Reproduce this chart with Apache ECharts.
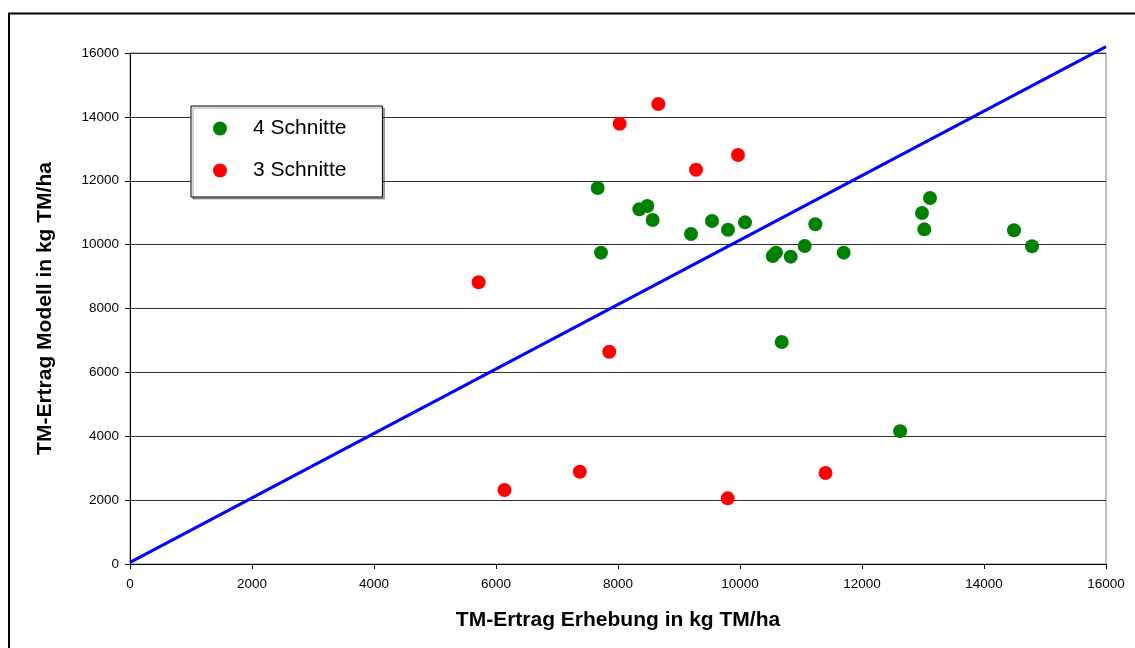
<!DOCTYPE html>
<html>
<head>
<meta charset="utf-8">
<script src="https://cdn.jsdelivr.net/npm/echarts@6/dist/echarts.min.js"></script>
<style>
html,body{margin:0;padding:0;background:#fff;}
#chart{width:1135px;height:648px;}
</style>
</head>
<body>
<div id="chart"></div>
<script>
var xTicks = [0, 2000, 4000, 6000, 8000, 10000, 12000, 14000, 16000];
var yTicks = [0, 2000, 4000, 6000, 8000, 10000, 12000, 14000, 16000];

var schnitte4X = [7667, 7721, 8350, 8481, 8568, 9197, 9541, 9803, 10082, 10536, 10590, 10831, 11060, 11235, 11700, 12984, 13021, 13115, 14492, 14787, 10684, 12625];
var schnitte4Y = [11773, 9748, 11106, 11209, 10771, 10333, 10740, 10468, 10698, 9644, 9748, 9623, 9957, 10636, 9748, 10990, 10479, 11460, 10448, 9947, 6950, 4160];

var schnitte3X = [8027, 8661, 9279, 9967, 5715, 7857, 6139, 7374, 9798, 11402];
var schnitte3Y = [13787, 14403, 12346, 12806, 8820, 6647, 2317, 2890, 2056, 2849];

var lineX = [0, 16000];
var lineY = [50, 16200];

function pairs(xs, ys) { return xs.map(function (x, i) { return [x, ys[i]]; }); }

var font = 'Liberation Sans, Arial, sans-serif';
var chart = echarts.init(document.getElementById('chart'), null, {renderer: 'canvas'});
chart.setOption({
  backgroundColor: '#fff',
  animation: false,
  textStyle: {fontFamily: font},
  graphic: [{
    type: 'rect',
    shape: {x: 9, y: 13.5, width: 1140, height: 650},
    style: {fill: 'none', stroke: '#000', lineWidth: 2},
    silent: true
  }],
  grid: {left: 130, right: 29, top: 53, bottom: 84, show: true, borderColor: '#808080', borderWidth: 1},
  legend: {
    left: 191, top: 106, orient: 'vertical',
    backgroundColor: '#fff', borderColor: '#000', borderWidth: 1,
    padding: [12, 36, 16, 22],
    itemWidth: 14, itemHeight: 14, itemGap: 21,
    icon: 'circle',
    shadowColor: 'rgba(0,0,0,0.35)', shadowOffsetX: 2, shadowOffsetY: 2, shadowBlur: 0,
    textStyle: {fontSize: 21, lineHeight: 21, color: '#000', fontFamily: font, padding: [0, 0, 0, 21]},
    data: ['4 Schnitte', '3 Schnitte']
  },
  xAxis: {
    type: 'value', min: 0, max: 16000, interval: 2000,
    name: 'TM-Ertrag Erhebung in kg TM/ha', nameLocation: 'middle', nameGap: 46,
    nameTextStyle: {fontSize: 21, fontWeight: 'bold', color: '#000', fontFamily: font},
    axisLine: {show: true, onZero: false, lineStyle: {color: '#000', width: 1}},
    axisTick: {show: true, length: 5, lineStyle: {color: '#000'}},
    axisLabel: {fontSize: 13.5, color: '#000', margin: 13, fontFamily: font,
      formatter: function (v) { return xTicks.indexOf(v) >= 0 ? String(v) : ''; }},
    splitLine: {show: false}
  },
  yAxis: {
    type: 'value', min: 0, max: 16000, interval: 2000,
    name: 'TM-Ertrag Modell in kg TM/ha', nameLocation: 'middle', nameGap: 74,
    nameTextStyle: {fontSize: 21, fontWeight: 'bold', color: '#000', fontFamily: font},
    axisLine: {show: true, onZero: false, lineStyle: {color: '#000', width: 1}},
    axisTick: {show: true, length: 5, lineStyle: {color: '#000'}},
    axisLabel: {fontSize: 13.5, color: '#000', margin: 11, fontFamily: font,
      formatter: function (v) { return yTicks.indexOf(v) >= 0 ? String(v) : ''; }},
    splitLine: {show: true, lineStyle: {color: '#303030', width: 1}}
  },
  series: [
    {
      name: 'Linie', type: 'line', data: pairs(lineX, lineY), showSymbol: false, symbol: 'none',
      clip: false, lineStyle: {color: '#0000ff', width: 3}, z: 1, silent: true
    },
    {
      name: '4 Schnitte', type: 'scatter', data: pairs(schnitte4X, schnitte4Y),
      symbol: 'circle', symbolSize: 14, itemStyle: {color: '#008000', opacity: 1}, z: 3
    },
    {
      name: '3 Schnitte', type: 'scatter', data: pairs(schnitte3X, schnitte3Y),
      symbol: 'circle', symbolSize: 14, itemStyle: {color: '#ff0000', opacity: 1}, z: 3
    }
  ]
});
</script>
</body>
</html>
